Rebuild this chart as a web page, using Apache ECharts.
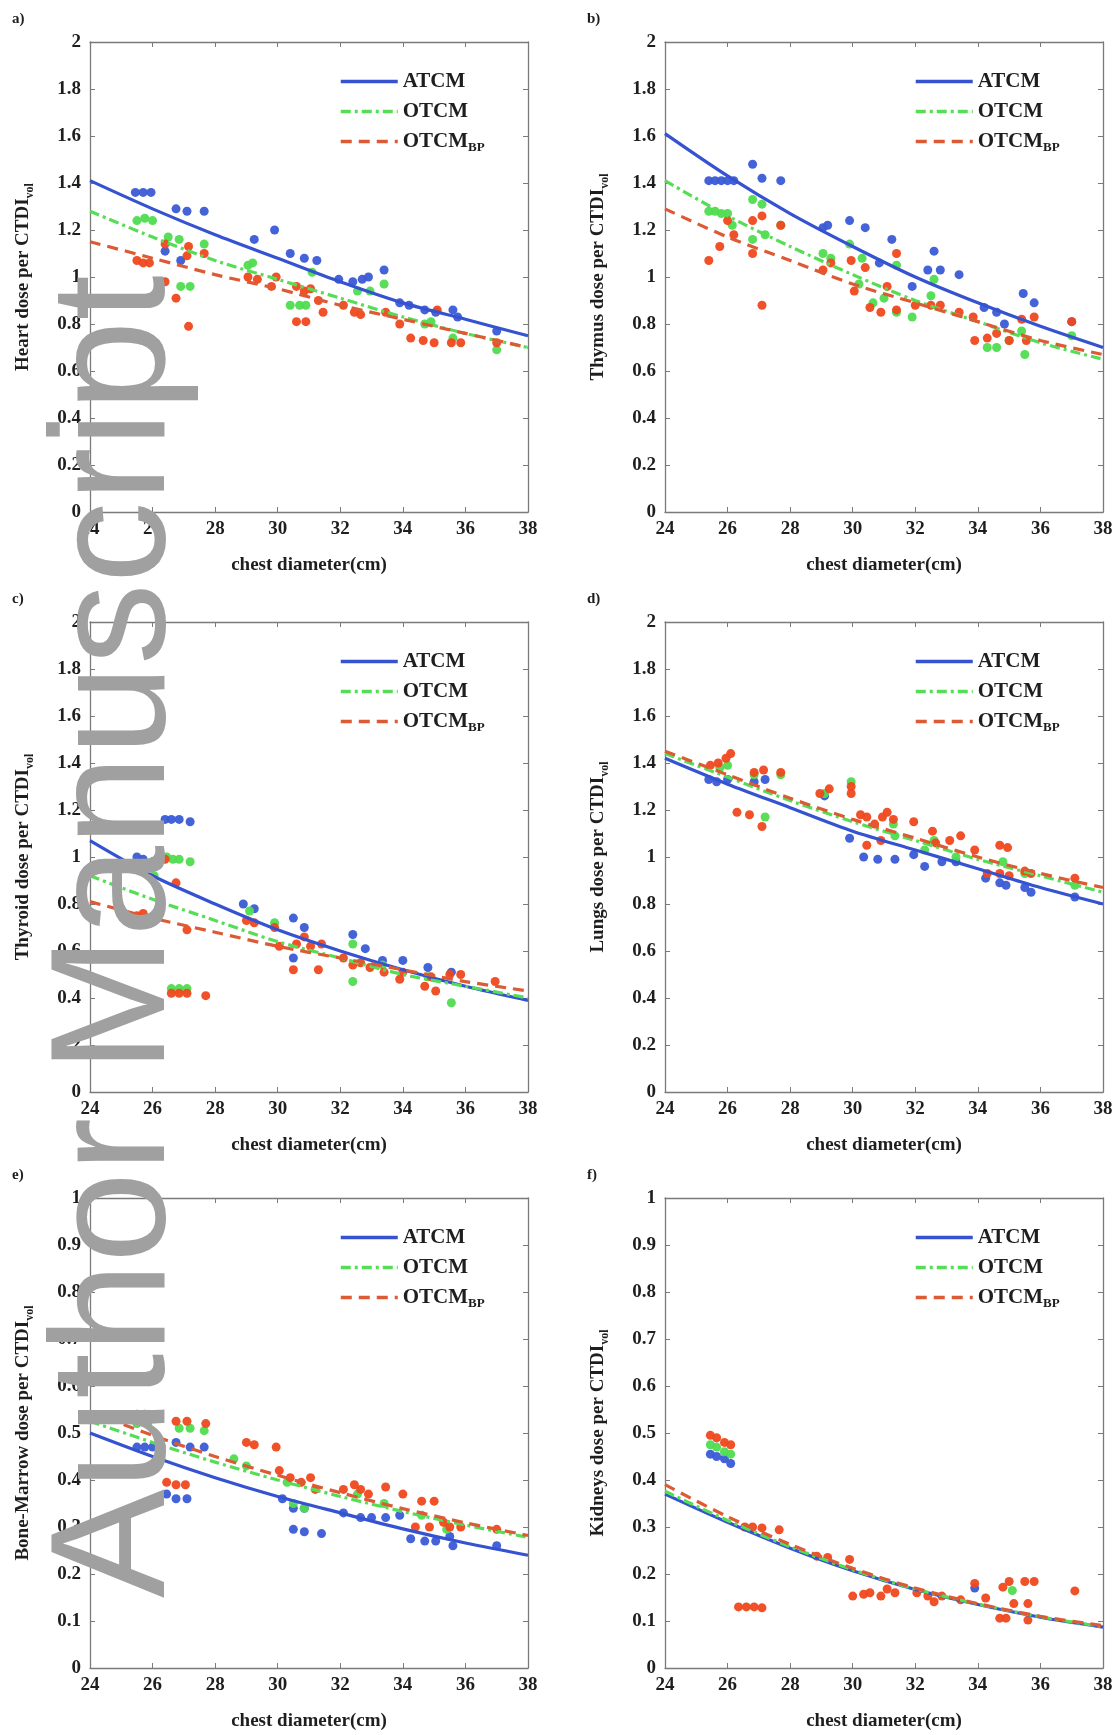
<!DOCTYPE html>
<html>
<head>
<meta charset="utf-8">
<script src="https://cdn.jsdelivr.net/npm/echarts@6/dist/echarts.min.js"></script>
<style>html,body{margin:0;padding:0;background:#fff}#c{width:1120px;height:1735px}</style>
</head>
<body>
<div id="c"></div>
<script>
// ---------- DATA ----------
const fitX = [24, 26, 28, 30, 32, 34, 36, 38];
const xTicks = [24, 26, 28, 30, 32, 34, 36, 38];

// a) Heart
const heartFitA = [1.41, 1.29, 1.18, 1.08, 0.98, 0.89, 0.82, 0.75];
const heartFitO = [1.28, 1.17, 1.07, 0.99, 0.91, 0.83, 0.76, 0.70];
const heartFitB = [1.15, 1.08, 1.01, 0.95, 0.88, 0.82, 0.76, 0.70];
const heartDotsA = [[25.45,1.36],[25.7,1.36],[25.95,1.36],[26.4,1.11],[26.75,1.29],[26.9,1.07],[27.1,1.28],[27.65,1.28],[29.25,1.16],[29.9,1.2],[30.4,1.1],[30.85,1.08],[31.25,1.07],[31.95,0.99],[32.4,0.98],[32.7,0.99],[32.9,1.0],[33.4,1.03],[33.9,0.89],[34.2,0.88],[34.7,0.86],[35.05,0.85],[35.6,0.86],[35.75,0.83],[37.0,0.77]];
const heartDotsO = [[25.5,1.24],[25.75,1.25],[26.0,1.24],[26.5,1.17],[26.85,1.16],[26.9,0.96],[27.2,0.96],[27.65,1.14],[29.05,1.05],[29.2,1.06],[30.4,0.88],[30.7,0.88],[30.9,0.88],[31.1,1.02],[32.55,0.94],[32.95,0.94],[33.4,0.97],[34.7,0.8],[34.9,0.81],[35.6,0.74],[37.0,0.69]];
const heartDotsB = [[25.5,1.07],[25.7,1.06],[25.9,1.06],[26.4,1.14],[26.4,0.98],[26.75,0.91],[27.1,1.09],[27.15,1.13],[27.15,0.79],[27.65,1.1],[29.05,1.0],[29.35,0.99],[29.8,0.96],[29.95,1.0],[30.6,0.96],[30.6,0.81],[30.85,0.94],[30.9,0.81],[31.05,0.95],[31.3,0.9],[31.45,0.85],[32.1,0.88],[32.45,0.85],[32.65,0.84],[33.45,0.85],[33.9,0.8],[34.25,0.74],[34.65,0.73],[35.0,0.72],[35.1,0.86],[35.55,0.72],[35.85,0.72],[37.0,0.72]];

// b) Thymus
const thymusFitA = [1.61, 1.43, 1.27, 1.13, 1.00, 0.89, 0.79, 0.70];
const thymusFitO = [1.41, 1.26, 1.13, 1.01, 0.90, 0.81, 0.72, 0.65];
const thymusFitB = [1.29, 1.17, 1.07, 0.97, 0.89, 0.81, 0.73, 0.67];
const thymusDotsA = [[25.4,1.41],[25.6,1.41],[25.8,1.41],[26.0,1.41],[26.2,1.41],[26.8,1.48],[27.1,1.42],[27.7,1.41],[29.05,1.21],[29.2,1.22],[29.9,1.24],[30.4,1.21],[30.85,1.06],[31.25,1.16],[31.9,0.96],[32.4,1.03],[32.6,1.11],[32.8,1.03],[33.4,1.01],[34.2,0.87],[34.6,0.85],[34.85,0.8],[35.45,0.93],[35.8,0.89],[37.0,0.81]];
const thymusDotsO = [[25.4,1.28],[25.6,1.28],[25.8,1.27],[26.0,1.27],[26.15,1.22],[26.8,1.33],[27.1,1.31],[26.8,1.16],[27.2,1.18],[27.7,1.22],[29.05,1.1],[29.3,1.08],[29.9,1.14],[30.2,0.97],[30.3,1.08],[30.65,0.89],[31.0,0.91],[31.4,1.05],[31.4,0.85],[31.9,0.83],[32.5,0.92],[32.6,0.99],[34.3,0.7],[34.6,0.7],[35.0,0.73],[35.4,0.77],[35.5,0.67],[37.0,0.75]];
const thymusDotsB = [[25.4,1.07],[25.75,1.13],[26.0,1.24],[26.2,1.18],[26.8,1.1],[26.8,1.24],[27.1,1.26],[27.1,0.88],[27.7,1.22],[29.05,1.03],[29.3,1.06],[29.95,1.07],[30.05,0.94],[30.4,1.04],[30.55,0.87],[30.9,0.85],[31.1,0.96],[31.4,1.1],[31.4,0.86],[32.0,0.88],[32.5,0.88],[32.8,0.88],[33.4,0.85],[33.85,0.83],[33.9,0.73],[34.3,0.74],[34.6,0.76],[35.0,0.73],[35.4,0.82],[35.55,0.73],[35.8,0.83],[37.0,0.81]];

// c) Thyroid
const thyroidFitA = [1.07, 0.92, 0.80, 0.69, 0.60, 0.52, 0.45, 0.39];
const thyroidFitO = [0.92, 0.82, 0.73, 0.64, 0.57, 0.50, 0.45, 0.40];
const thyroidFitB = [0.81, 0.74, 0.68, 0.62, 0.57, 0.52, 0.47, 0.43];
const thyroidDotsA = [[25.5,1.0],[25.7,0.99],[26.0,0.98],[26.4,1.16],[26.6,1.16],[26.85,1.16],[27.2,1.15],[28.9,0.8],[29.25,0.78],[30.5,0.74],[30.85,0.7],[30.5,0.57],[32.4,0.67],[32.8,0.61],[33.35,0.56],[34.0,0.56],[34.8,0.53],[35.55,0.51]];
const thyroidDotsO = [[25.7,0.95],[26.05,0.92],[26.45,1.0],[26.65,0.99],[26.85,0.99],[27.2,0.98],[26.6,0.44],[26.85,0.44],[27.1,0.44],[29.1,0.77],[29.9,0.72],[32.4,0.63],[32.4,0.47],[33.35,0.54],[34.8,0.49],[35.55,0.38]];
const thyroidDotsB = [[25.5,0.75],[25.7,0.76],[26.4,0.99],[26.75,0.89],[27.1,0.69],[26.6,0.42],[26.85,0.42],[27.1,0.42],[27.7,0.41],[29.0,0.73],[29.25,0.72],[29.9,0.7],[30.05,0.62],[30.5,0.52],[30.6,0.63],[30.85,0.66],[31.05,0.62],[31.3,0.52],[31.4,0.63],[32.1,0.57],[32.4,0.54],[32.65,0.55],[32.95,0.53],[33.4,0.51],[33.9,0.48],[34.0,0.51],[34.7,0.45],[34.9,0.49],[35.05,0.43],[35.5,0.5],[35.85,0.5],[36.95,0.47]];

// d) Lungs
const lungsFitA = [1.42, 1.31, 1.21, 1.11, 1.03, 0.95, 0.87, 0.80];
const lungsFitO = [1.44, 1.34, 1.24, 1.15, 1.07, 0.99, 0.92, 0.85];
const lungsFitB = [1.45, 1.35, 1.25, 1.16, 1.08, 1.00, 0.93, 0.87];
const lungsDotsA = [[25.4,1.33],[25.65,1.32],[26.0,1.33],[26.85,1.32],[27.2,1.33],[29.1,1.26],[29.9,1.08],[30.35,1.0],[30.8,0.99],[31.35,0.99],[31.95,1.01],[32.3,0.96],[32.85,0.98],[33.3,0.98],[34.25,0.91],[34.7,0.89],[34.9,0.88],[35.5,0.87],[35.7,0.85],[37.1,0.83]];
const lungsDotsO = [[25.75,1.38],[26.0,1.39],[26.85,1.35],[27.2,1.17],[27.7,1.35],[29.1,1.27],[29.95,1.32],[31.3,1.14],[31.35,1.09],[32.3,1.03],[32.6,1.07],[33.3,1.0],[34.8,0.98],[35.5,0.93],[37.1,0.88]];
const lungsDotsB = [[25.45,1.39],[25.7,1.4],[25.95,1.42],[26.1,1.44],[26.3,1.19],[26.7,1.18],[27.1,1.13],[26.85,1.36],[27.15,1.37],[27.7,1.36],[28.95,1.27],[29.25,1.29],[29.95,1.3],[29.95,1.27],[30.25,1.18],[30.45,1.17],[30.7,1.14],[30.95,1.17],[31.1,1.19],[31.3,1.16],[30.45,1.05],[30.9,1.07],[31.95,1.15],[32.55,1.11],[32.65,1.06],[33.1,1.07],[33.45,1.09],[33.9,1.03],[34.3,0.93],[34.7,1.05],[34.95,1.04],[34.7,0.93],[35.0,0.92],[35.5,0.94],[35.7,0.93],[37.1,0.91]];

// e) Bone-Marrow
const marrowFitA = [0.50, 0.45, 0.405, 0.365, 0.33, 0.296, 0.266, 0.24];
const marrowFitO = [0.525, 0.48, 0.438, 0.40, 0.365, 0.333, 0.304, 0.278];
const marrowFitB = [0.545, 0.495, 0.45, 0.41, 0.373, 0.339, 0.309, 0.282];
const marrowDotsA = [[25.5,0.47],[25.75,0.47],[26.0,0.47],[26.75,0.48],[27.2,0.47],[27.65,0.47],[26.45,0.37],[26.75,0.36],[27.1,0.36],[30.15,0.36],[30.5,0.34],[30.85,0.34],[30.5,0.295],[30.85,0.29],[31.4,0.286],[32.1,0.33],[32.65,0.32],[33.0,0.32],[33.45,0.32],[33.9,0.325],[34.25,0.275],[34.7,0.27],[35.05,0.27],[35.5,0.28],[35.6,0.26],[37.0,0.26]];
const marrowDotsO = [[25.5,0.52],[25.85,0.52],[26.85,0.51],[27.2,0.51],[27.65,0.505],[28.6,0.445],[29.0,0.43],[30.3,0.395],[30.5,0.35],[30.85,0.34],[32.55,0.37],[33.4,0.35],[34.6,0.325],[35.4,0.295]];
const marrowDotsB = [[25.5,0.54],[25.75,0.54],[26.05,0.535],[26.75,0.525],[27.1,0.525],[27.7,0.52],[26.45,0.395],[26.75,0.39],[27.05,0.39],[29.0,0.48],[29.25,0.475],[29.95,0.47],[30.05,0.42],[30.4,0.405],[30.75,0.395],[31.05,0.405],[31.2,0.38],[32.1,0.38],[32.45,0.39],[32.65,0.38],[32.9,0.37],[33.45,0.385],[34.0,0.37],[34.6,0.355],[35.0,0.355],[34.4,0.3],[34.85,0.3],[35.3,0.31],[35.5,0.3],[35.85,0.3],[37.0,0.295]];

// f) Kidneys
const kidneyFitA = [0.37, 0.31, 0.255, 0.207, 0.167, 0.135, 0.108, 0.087];
const kidneyFitO = [0.376, 0.314, 0.258, 0.209, 0.168, 0.136, 0.109, 0.088];
const kidneyFitB = [0.39, 0.322, 0.263, 0.212, 0.17, 0.137, 0.11, 0.09];
const kidneyDotsA = [[25.45,0.455],[25.65,0.45],[25.9,0.445],[26.1,0.435],[33.9,0.17]];
const kidneyDotsO = [[25.45,0.475],[25.65,0.47],[25.9,0.46],[26.1,0.455],[35.1,0.165]];
const kidneyDotsB = [[25.45,0.495],[25.65,0.49],[25.9,0.48],[26.1,0.475],[26.35,0.13],[26.6,0.13],[26.85,0.13],[27.1,0.128],[26.55,0.30],[26.8,0.30],[27.1,0.298],[27.65,0.294],[28.85,0.238],[29.2,0.235],[29.9,0.231],[30.0,0.153],[30.35,0.157],[30.55,0.16],[30.9,0.153],[31.1,0.168],[31.35,0.16],[32.05,0.16],[32.4,0.153],[32.6,0.141],[32.85,0.153],[33.45,0.145],[33.9,0.18],[34.25,0.149],[34.7,0.106],[34.9,0.106],[34.8,0.172],[35.0,0.184],[35.15,0.137],[35.5,0.184],[35.8,0.184],[35.6,0.137],[35.6,0.102],[37.1,0.164]];

const panelLabels = ['a)', 'b)', 'c)', 'd)', 'e)', 'f)'];
const yNames = ['Heart dose per CTDI', 'Thymus dose per CTDI', 'Thyroid dose per CTDI', 'Lungs dose per CTDI', 'Bone-Marrow dose per CTDI', 'Kidneys dose per CTDI'];
const yMaxes = [2, 2, 2, 2, 1, 1];
const yIntervals = [0.2, 0.2, 0.2, 0.2, 0.1, 0.1];
const legendNames = ['ATCM', 'OTCM', 'OTCM_BP'];
const xName = 'chest diameter(cm)';
const watermark = 'Author Manuscript';

// ---------- BUILD ----------
const panels = [
  {fits:[heartFitA, heartFitO, heartFitB], dots:[heartDotsA, heartDotsO, heartDotsB]},
  {fits:[thymusFitA, thymusFitO, thymusFitB], dots:[thymusDotsA, thymusDotsO, thymusDotsB]},
  {fits:[thyroidFitA, thyroidFitO, thyroidFitB], dots:[thyroidDotsA, thyroidDotsO, thyroidDotsB]},
  {fits:[lungsFitA, lungsFitO, lungsFitB], dots:[lungsDotsA, lungsDotsO, lungsDotsB]},
  {fits:[marrowFitA, marrowFitO, marrowFitB], dots:[marrowDotsA, marrowDotsO, marrowDotsB]},
  {fits:[kidneyFitA, kidneyFitO, kidneyFitB], dots:[kidneyDotsA, kidneyDotsO, kidneyDotsB]}
];
const gridPos = [[90,42],[665,42],[90,622],[665,622],[90,1198],[665,1198]];
const GW = 438, GH = 470;
const SERIF = '"Liberation Serif", "Times New Roman", serif';
const AX = '#7a7a7a';
const TXT = '#1e1e1e';
const dotColors = ['#3b5bd6', '#4fdc4f', '#f0481e'];
const lineColors = ['#3553d0', '#55dd55', '#dc5a34'];
const lineTypes = ['solid', [10, 4, 3, 4], [11, 7]];

const grid = [], xAxis = [], yAxis = [], series = [], legend = [], graphic = [];

panels.forEach((p, i) => {
  const [gx, gy] = gridPos[i];
  grid.push({left: gx, top: gy, width: GW, height: GH});
  const axLine = {show: true, onZero: false, lineStyle: {color: AX, width: 1.3}};
  const tick = {show: true, inside: true, length: 5, lineStyle: {color: AX, width: 1}};
  const lab = {color: TXT, fontFamily: SERIF, fontWeight: 'bold', fontSize: 19};
  xAxis.push({
    gridIndex: i, type: 'value', min: xTicks[0], max: xTicks[xTicks.length - 1], interval: 2,
    position: 'bottom', name: xName, nameLocation: 'middle', nameGap: 44,
    nameTextStyle: {color: TXT, fontFamily: SERIF, fontWeight: 'bold', fontSize: 19},
    axisLine: axLine, axisTick: tick, axisLabel: Object.assign({margin: 8}, lab), splitLine: {show: false}
  });
  xAxis.push({
    gridIndex: i, type: 'value', min: xTicks[0], max: xTicks[xTicks.length - 1], interval: 2,
    position: 'top', axisLine: axLine, axisTick: tick, axisLabel: {show: false}, splitLine: {show: false}
  });
  yAxis.push({
    gridIndex: i, type: 'value', min: 0, max: yMaxes[i], interval: yIntervals[i],
    position: 'left', name: '{n|' + yNames[i] + '}{s|vol}', nameLocation: 'middle', nameGap: 54, nameRotate: 90,
    nameTextStyle: {
      color: TXT, fontFamily: SERIF, fontWeight: 'bold', fontSize: 19,
      rich: {
        n: {color: TXT, fontFamily: SERIF, fontWeight: 'bold', fontSize: 19, lineHeight: 26},
        s: {color: TXT, fontFamily: SERIF, fontWeight: 'bold', fontSize: 12, lineHeight: 12, verticalAlign: 'bottom'}
      }
    },
    axisLine: axLine, axisTick: tick, axisLabel: Object.assign({margin: 9}, lab), splitLine: {show: false}
  });
  yAxis.push({
    gridIndex: i, type: 'value', min: 0, max: yMaxes[i], interval: yIntervals[i],
    position: 'right', axisLine: axLine, axisTick: tick, axisLabel: {show: false}, splitLine: {show: false}
  });

  p.dots.forEach((d, k) => {
    series.push({
      type: 'scatter', name: legendNames[k] + ' data', xAxisIndex: 2 * i, yAxisIndex: 2 * i,
      data: d, symbol: 'circle', symbolSize: 9, itemStyle: {color: dotColors[k], opacity: 0.95}, z: 2, silent: true
    });
  });
  p.fits.forEach((f, k) => {
    series.push({
      type: 'line', name: legendNames[k], xAxisIndex: 2 * i, yAxisIndex: 2 * i,
      data: fitX.map((x, j) => [x, f[j]]), smooth: 0.3, symbol: 'none', showSymbol: false,
      lineStyle: {color: lineColors[k], width: 3.2, type: lineTypes[k]}, itemStyle: {color: lineColors[k]}, z: 3, silent: true
    });
  });

  legend.push({
    data: legendNames, orient: 'vertical', left: gx + 249, top: gy + 29, padding: 0,
    itemWidth: 57, itemHeight: 12, itemGap: 9, selectedMode: false,
    itemStyle: {opacity: 0},
    lineStyle: {width: 3.5},
    formatter: n => n === 'OTCM_BP' ? '{m|OTCM}{s|BP}' : '{m|' + n + '}',
    textStyle: {
      color: TXT, fontFamily: SERIF, fontWeight: 'bold', fontSize: 21,
      rich: {
        m: {color: TXT, fontFamily: SERIF, fontWeight: 'bold', fontSize: 21, lineHeight: 26},
        s: {color: TXT, fontFamily: SERIF, fontWeight: 'bold', fontSize: 13, lineHeight: 12, verticalAlign: 'bottom'}
      }
    }
  });

  graphic.push({
    type: 'text', left: gx - 78, top: gy - 30,
    style: {text: panelLabels[i], fill: TXT, font: 'bold 15px ' + SERIF}
  });
});

graphic.push({
  type: 'text', x: 119, y: 1598, rotation: Math.PI / 2, z: 100,
  style: {text: watermark, fill: '#a0a0a0', font: '163px "Liberation Sans", Arial, sans-serif', align: 'left', verticalAlign: 'middle'}
});

const chart = echarts.init(document.getElementById('c'), null, {renderer: 'canvas'});
chart.setOption({
  animation: false,
  backgroundColor: '#fff',
  grid, xAxis, yAxis, series, legend, graphic
});
</script>
</body>
</html>
